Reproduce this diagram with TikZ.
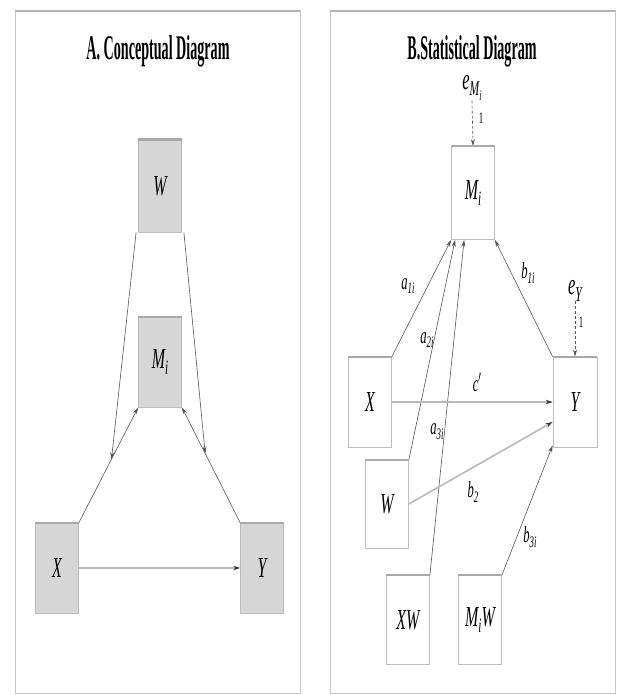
\documentclass[tikz,border=0pt]{standalone}
\usepackage{fontspec}
\setmainfont{Liberation Serif}
\usetikzlibrary{calc,arrows.meta}

\definecolor{boxfill}{HTML}{D6D6D6}
\definecolor{boxedge}{HTML}{BDBDBD}
\definecolor{boxtop}{HTML}{A9A9A9}
\definecolor{framecol}{HTML}{C6C6C6}
\definecolor{wire}{HTML}{555555}

% condensed setting for labels, and a lowered index
\newcommand{\cond}[1]{\scalebox{0.55}[1]{#1}}
\newcommand{\lo}[1]{\raisebox{-0.45ex}{\scalebox{0.7}{#1}}}

\tikzset{
  varbox/.style={draw=boxedge, line width=0.8pt, minimum width=43pt,
    minimum height=90pt, inner sep=0pt, font=\fontsize{29}{31}\selectfont\itshape},
  greybox/.style={varbox, fill=boxfill},
  openbox/.style={varbox, fill=white},
  link/.style={draw=wire, line width=0.6pt, -{Stealth[length=7pt,width=4pt]}},
  direct/.style={draw=gray!55, line width=1.6pt,
    -{Stealth[length=7pt,width=4.5pt,color=black!80]}},
  errlink/.style={draw=wire, line width=0.6pt, dash pattern=on 3pt off 2pt,
    -{Stealth[length=7pt,width=4pt]}},
  elab/.style={font=\fontsize{23}{25}\selectfont\itshape, inner sep=0pt},
  errlab/.style={font=\fontsize{30}{32}\selectfont\itshape, inner sep=0pt},
  onelab/.style={font=\fontsize{16}{18}\selectfont, inner sep=0pt},
  panel/.style={draw=framecol, line width=0.9pt},
  paneltop/.style={draw=framecol!90!black, line width=2.5pt},
}

\begin{document}
\begin{tikzpicture}[x=1pt, y=-1pt]
  \useasboundingbox[fill=white] (0,0) rectangle (617,695);

  % panel frames
  \draw[panel] (15,10) rectangle (300,693);
  \draw[paneltop] (15,11) -- (300,11);
  \draw[panel] (330,10) rectangle (615,693);
  \draw[paneltop] (330,11) -- (615,11);

  % titles
  \node (titleA) at (158,51) {\resizebox{143pt}{24pt}{\bfseries A. Conceptual Diagram}};
  \node (titleB) at (472,51) {\resizebox{129pt}{24pt}{\bfseries B.Statistical Diagram}};

  % ---------- A. conceptual diagram ----------
  \node[greybox, minimum height=92pt] (Wa) at (160,186) {\cond{W}};
  \node[greybox] (Ma) at (160,362) {\cond{M\lo{i}}};
  \node[greybox] (Xa) at (57,568) {\cond{X}};
  \node[greybox] (Ya) at (262,568) {\cond{Y}};

  \draw[link] (Xa.north east) -- (Ma.south west);
  \draw[link] (Ya.north west) -- (Ma.south east);
  \draw[direct] (Xa.east) -- (Ya.west);

  \coordinate (modL) at ($(Xa.north east)!0.55!(Ma.south west)$);
  \coordinate (modR) at ($(Ya.north west)!0.6!(Ma.south east)$);
  \draw[link] ($(Wa.south west)+(-2,0)$) -- (modL);
  \draw[link] ($(Wa.south east)+(2,0)$) -- (modR);

  % ---------- B. statistical diagram ----------
  \node[openbox, minimum height=93pt] (Mb) at (473,193) {\cond{M\lo{i}}};
  \node[openbox] (Xb) at (370,402) {\cond{X}};
  \node[openbox, minimum width=44pt] (Yb) at (575,402) {\cond{Y}};
  \node[openbox, minimum height=88pt] (Wb) at (387,504) {\cond{W}};
  \node[openbox, minimum height=89pt] (XWb) at (408,620) {\cond{XW}};
  \node[openbox, minimum height=89pt] (MWb) at (480,620) {\cond{M\lo{i}W}};

  % error terms
  \node[errlab] (eM) at (472,88) {\cond{e\lo{M\lo{i}}}};
  \node[onelab] (oneM) at (481,118) {\cond{1}};
  \draw[errlink] (eM.south) -- (Mb.north);
  \node[errlab] (eY) at (575,291) {\cond{e\lo{Y}}};
  \node[onelab] (oneY) at (581,322) {\cond{1}};
  \draw[errlink] (eY.south) -- (Yb.north);

  % paths into M_i
  \draw[link] (Xb.north east) -- (Mb.south west);
  \draw[link] (Wb.north east) -- ($(Mb.south west)+(4,0)$);
  \draw[link] (XWb.north east) -- ($(Mb.south west)+(13,0)$);
  \draw[link] (Yb.north west) -- (Mb.south east);

  % paths into Y
  \draw[direct] (Xb.east) -- (Yb.west);
  \draw[direct] (Wb.east) -- ($(Yb.west)+(0,20)$);
  \draw[link] (MWb.north east) -- ($(Yb.south west)+(0,-2)$);

  % path labels
  \node[elab] (la1) at (408,286) {\cond{a\lo{1i}}};
  \node[elab] (la2) at (427,340) {\cond{a\lo{2i}}};
  \node[elab] (la3) at (437,432) {\cond{a\lo{3i}}};
  \node[elab] (lb1) at (528,273) {\cond{b\lo{1i}}};
  \node[elab] (lc) at (477,382) {\cond{c$'$}};
  \node[elab] (lb2) at (473,492) {\cond{b\lo{2}}};
  \node[elab] (lb3) at (530,537) {\cond{b\lo{3i}}};

  % heavier top edges of the boxes
  \foreach \n in {Wa,Ma,Xa,Ya,Mb,Xb,Yb,Wb,XWb,MWb}
    \draw[boxtop, line width=2.2pt] (\n.north west) -- (\n.north east);
\end{tikzpicture}
\end{document}
